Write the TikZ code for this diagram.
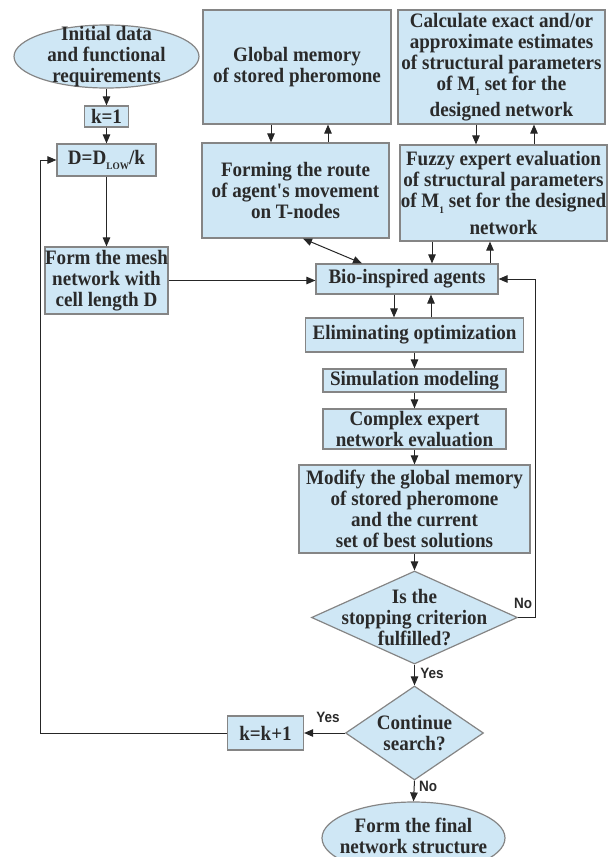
\documentclass[tikz,border=0pt]{standalone}
\usepackage{fontspec}
\setmainfont{Liberation Serif}[FakeStretch=0.93]
\newfontfamily\labfont{Liberation Sans}[FakeStretch=0.9]
\usetikzlibrary{shapes.geometric,arrows.meta}
\definecolor{boxfill}{HTML}{CFE7F5}
\definecolor{boxline}{HTML}{858585}
\definecolor{txtc}{HTML}{2A2A2A}
\definecolor{arrc}{HTML}{262626}
\newcommand\mysub[1]{\raisebox{-0.6ex}{\fontsize{10}{10}\selectfont #1}}
\begin{document}
\begin{tikzpicture}[x=1pt,y=-1pt,
  shp/.style={draw=boxline, line width=1.2pt, fill=boxfill, inner sep=0pt},
  box/.style={shp, align=center, text=txtc, font=\fontsize{20.5}{21}\selectfont\bfseries},
  ell/.style={shp, ellipse},
  dia/.style={shp, diamond},
  txt/.style={align=center, text=txtc, inner sep=0pt, font=\fontsize{20.5}{21}\selectfont\bfseries},
  lab/.style={text=txtc, inner sep=0pt, font=\labfont\fontsize{15}{15}\selectfont\bfseries},
  tip/.tip={Triangle[length=9pt,width=7.5pt]},
  arr/.style={draw=arrc, line width=1pt, -tip},
  dbl/.style={draw=arrc, line width=1pt, tip-tip},
]
\useasboundingbox (0,0) rectangle (609,857);
\clip (0,0) rectangle (609,857);

% left column
\node[ell, minimum width=185pt, minimum height=63pt] (init) at (106.5,56.5) {};
\node[txt] at (106.5,57) {Initial data\\and functional\\requirements};
\node[box, minimum width=44pt, minimum height=21pt] (k1) at (106.5,116.5) {k=1};
\node[box, minimum width=99pt, minimum height=32pt] (D) at (106.5,160) {D=D\mysub{LOW}/k};
\node[box, minimum width=122pt, minimum height=67pt] (mesh) at (106.5,280.5) {Form the mesh\\network with\\cell length D};

% top boxes
\node[box, minimum width=188pt, minimum height=114pt] (glob) at (297,67) {Global memory\\of stored pheromone};
\node[box, minimum width=207pt, minimum height=114pt] (calc) at (501.5,67) {Calculate exact and/or\\approximate estimates\\of structural parameters\\of M\mysub{1} set for the\\[5pt]designed network};
\node[box, minimum width=187pt, minimum height=95pt] (form) at (295.5,190.5) {Forming the route\\of agent\textquotesingle s movement\\on T-nodes};
\node[box, minimum width=207pt, minimum height=96pt] (fuzzy) at (503.5,193) {Fuzzy expert evaluation\\of structural parameters\\of M\mysub{1} set for the designed\\[6pt]network};

% main column
\node[box, minimum width=182pt, minimum height=30pt] (bio) at (407,279) {Bio-inspired agents};
\node[box, minimum width=218pt, minimum height=34pt] (elim) at (414.5,335) {Eliminating optimization};
\node[box, minimum width=183pt, minimum height=23pt] (sim) at (414.5,380.5) {Simulation modeling};
\node[box, minimum width=183pt, minimum height=40pt] (cplx) at (414.5,429) {Complex expert\\network evaluation};
\node[box, minimum width=231pt, minimum height=88pt] (mod) at (414.5,509) {Modify the global memory\\of stored pheromone\\and the current\\set of best solutions};
\node[dia, minimum width=206pt, minimum height=93pt] (d1) at (414.5,617.5) {};
\node[txt] at (414.5,618) {Is the\\stopping criterion\\fulfilled?};
\node[dia, minimum width=138pt, minimum height=94pt] (d2) at (414.5,733) {};
\node[txt] at (414.5,733.5) {Continue\\search?};
\node[box, minimum width=76pt, minimum height=34pt] (kk) at (265.5,733) {k=k+1};
\node[ell, minimum width=183pt, minimum height=72pt] (fin) at (413.5,838) {};
\node[txt] at (413.5,835.5) {Form the final\\network structure};

% helper columns
\coordinate (cA) at (271,0);
\coordinate (cB) at (328,0);
\coordinate (cC) at (476,0);
\coordinate (cD) at (534,0);
\coordinate (cE) at (432,0);
\coordinate (cF) at (490,0);
\coordinate (cG) at (394,0);
\coordinate (cH) at (431,0);
\coordinate (cI) at (303,0);
\coordinate (cJ) at (362,0);
\coordinate (rr) at (535.5,279);
\coordinate (ll) at (40,160);

% connectors
\draw[arr] (init.south) -- (k1.north);
\draw[arr] (k1.south) -- (D.north);
\draw[arr] (D.south) -- (mesh.north);
\draw[arr] (mesh.east) -- (bio.west |- mesh.east);
\draw[arr] (glob.south -| cA) -- (form.north -| cA);
\draw[arr] (form.north -| cB) -- (glob.south -| cB);
\draw[arr] (calc.south -| cC) -- (fuzzy.north -| cC);
\draw[arr] (fuzzy.north -| cD) -- (calc.south -| cD);
\draw[dbl] (form.south -| cI) -- (bio.north -| cJ);
\draw[arr] (fuzzy.south -| cE) -- (bio.north -| cE);
\draw[arr] (bio.north -| cF) -- (fuzzy.south -| cF);
\draw[arr] (bio.south -| cG) -- (elim.north -| cG);
\draw[arr] (elim.north -| cH) -- (bio.south -| cH);
\draw[arr] (elim.south) -- (sim.north);
\draw[arr] (sim.south) -- (cplx.north);
\draw[arr] (cplx.south) -- (mod.north);
\draw[arr] (mod.south) -- (d1.north);
\draw[arr] (d1.east) -| (rr) -- (bio.east);
\draw[arr] (d1.south) -- (d2.north);
\draw[arr] (d2.west) -- (kk.east);
\draw[arr] (kk.west) -| (ll) -- (D.west);
\draw[arr] (d2.south) -- (fin.north);

% labels
\node[lab] (lno1) at (523,603) {No};
\node[lab] (lyes1) at (432,673) {Yes};
\node[lab] (lyes2) at (328,717) {Yes};
\node[lab] (lno2) at (428,786) {No};
\end{tikzpicture}
\end{document}
